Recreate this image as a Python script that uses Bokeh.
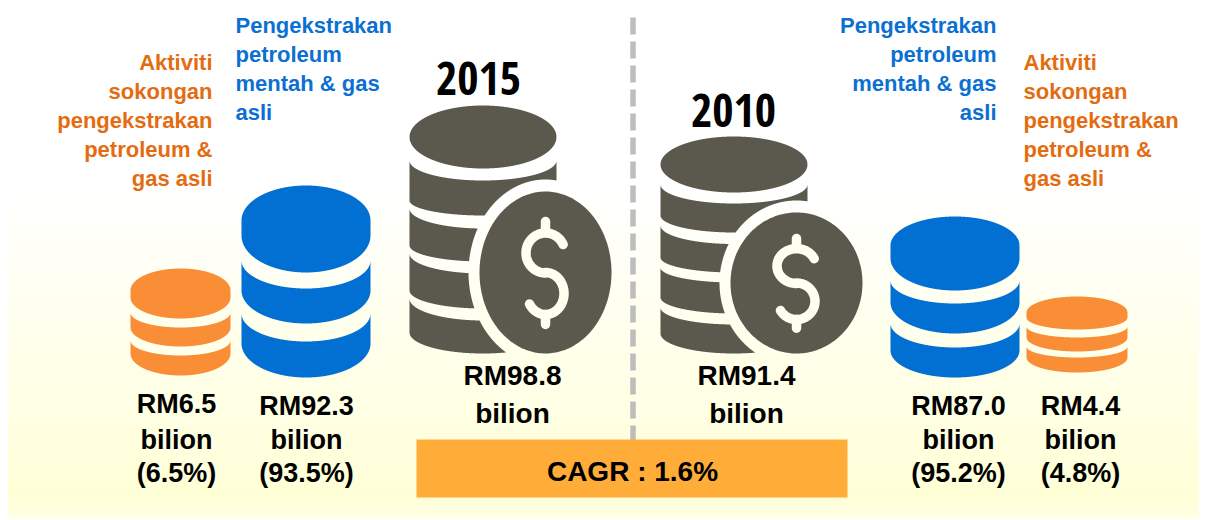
import numpy as np
from bokeh.plotting import figure
from bokeh.embed import file_html
from bokeh.resources import INLINE
from bokeh.core.properties import value

# ---- chart content ----
years = ["2015", "2010"]
totals = ["RM98.8", "RM91.4"]
segment_values = ["RM6.5", "RM92.3", "RM87.0", "RM4.4"]
segment_shares = ["(6.5%)", "(93.5%)", "(95.2%)", "(4.8%)"]
unit = "bilion"
cagr_label = "CAGR : 1.6%"
blue_lines = ["Pengekstrakan", "petroleum", "mentah & gas", "asli"]
orange_lines = ["Aktiviti", "sokongan", "pengekstrakan", "petroleum &", "gas asli"]

# ---- styles ----
BLUE, ORANGE, GREY = "#0270D3", "#F98E36", "#5B584E"
BLUE_T, ORANGE_T = "#0B70D2", "#E46C10"
FONT = value("Liberation Sans")

p = figure(width=1207, height=520, x_range=(0, 1207), y_range=(520, 0),
           output_backend="svg", toolbar_location=None, min_border=0,
           background_fill_color="white", border_fill_color="white", outline_line_color=None)
p.axis.visible = False
p.grid.visible = False

# background gradient
stops_y = [190, 260, 330, 400, 470, 494, 518]
stops_b = [255, 246, 236, 228, 218, 212, 228]
edges = np.arange(190, 519, 2)
mid = edges[:-1] + 1
cols = ["#ffff%02x" % int(round(b)) for b in np.interp(mid, stops_y, stops_b)]
p.quad(left=8, right=1198, top=edges[:-1], bottom=edges[1:], fill_color=cols, line_color=cols, line_width=0.5)


def band(cx, rx, spec, hole=None, n=1200):
    st, ct, sb, cb = spec
    xs = np.linspace(cx - rx, cx + rx, n)
    s = np.sqrt(np.clip(1 - ((xs - cx) / rx) ** 2, 0, 1))
    up = st + (ct - st) * s
    lo = sb + (cb - sb) * s
    keep_x, keep_u, keep_l = [], [], []
    for x, u, l in zip(xs, up, lo):
        if hole is not None:
            hx, hy, hrx, hry = hole
            d = 1 - ((x - hx) / hrx) ** 2
            if d > 0:
                e1 = hy - hry * np.sqrt(d)
                e2 = hy + hry * np.sqrt(d)
                if e1 <= u and e2 >= l:
                    if keep_x:
                        break
                    continue
                if e1 > u and e2 >= l:
                    l = min(l, e1)
                elif e2 < l:
                    u = max(u, e2)
        if l > u:
            keep_x.append(x); keep_u.append(u); keep_l.append(l)
    return keep_x + keep_x[::-1], keep_u + keep_l[::-1]


def stack(cx, rx, specs, color, hole=None):
    xs, ys = [], []
    for sp in specs:
        x, y = band(cx, rx, sp, hole)
        xs.append(x); ys.append(y)
    p.patches(xs, ys, fill_color=color, line_color=None)


stack(180, 50, [(290, 268, 297, 318), (312, 327, 327, 346), (340, 355, 353, 375)], ORANGE)
stack(305.5, 64.5, [(220, 185, 235, 272), (260, 288, 290, 323), (313, 341, 343, 377)], BLUE)
stack(954.5, 64.5, [(245, 216, 258, 290), (280, 303, 302, 333), (323, 347, 350, 377)], BLUE)
stack(1076.5, 50.5, [(312, 296, 317, 329), (326, 337, 337, 351), (346, 357, 357, 372)], ORANGE)


def money(cx, rx, top_spec, specs, coin):
    hx, hy, hrx, hry = coin
    stack(cx, rx, [top_spec], GREY)
    stack(cx, rx, specs, GREY, hole=(hx, hy, hrx + 11, hry + 12))
    t = np.linspace(0, 2 * np.pi, 240)
    p.patch(hx + hrx * np.cos(t), hy + hry * np.sin(t), fill_color=GREY, line_color=None)
    k = hry / 81
    a1 = np.radians(np.linspace(-25, -270, 70))
    ux = hx + 19.5 * np.cos(a1); uy = hy + k * (-19.5 + 20 * np.sin(a1))
    a2 = np.radians(np.linspace(-90, 150, 70))
    lx = hx + 18.5 * np.cos(a2); ly = hy + k * (21 + 21 * np.sin(a2))
    sx = list(ux) + list(lx); sy = list(uy) + list(ly)
    p.multi_line([sx, [hx, hx], [hx, hx]],
                 [sy, [hy - k * 51, hy - k * 40], [hy + k * 42, hy + k * 52]],
                 line_color="#FFFFF0", line_width=9.5, line_cap="round", line_join="round")


money(482.5, 73.5, (136.5, 105, 136.5, 168),
      [(160, 180, 200, 215), (208, 228, 245, 261), (253, 273, 290, 308), (298, 320, 332, 353)],
      (545, 272, 66, 81))
money(733.5, 73.5, (164, 136, 164, 192),
      [(184, 203, 215, 232), (225, 243.5, 257, 272), (267, 282, 297, 313), (307, 324, 333, 353)],
      (796, 282.5, 66, 70.5))

# divider and CAGR bar
p.line([632.5, 632.5], [17, 440], line_color="#BDBDBD", line_width=5.5, line_dash="17 7")
p.quad(left=416, right=847, top=439, bottom=497, fill_color="#FFAD38", line_color=None)


def txt(x, y, s, size, color="#000000", align="center", font=FONT, style="bold"):
    # y is the baseline seen in the reference; the SVG text settles lower than its anchor
    px = float(size[:-2])
    p.text(x=[x], y=[y - 0.36 * px], text=[s], text_font=font, text_font_size=size, text_font_style=style,
           text_color=color, text_align=align, text_baseline="alphabetic")


txt(632, 481, cagr_label, "28px")

narrow = value("'Open Sans Condensed', 'Liberation Sans'")
txt(478, 95, years[0], "46px", font=narrow)
txt(733, 127, years[1], "46px", font=narrow)

txt(512, 385, totals[0], "28px"); txt(512, 423, unit, "28px")
txt(746, 385, totals[1], "28px"); txt(746, 423, unit, "28px")

for cx, v, sh, base in zip([176, 306, 958, 1080], segment_values, segment_shares, [413, 415, 415, 415]):
    txt(cx, base, v, "27px")
    txt(cx, 449.5, unit, "27px")
    txt(cx, 482.5, sh, "27px")

for s, by in zip(blue_lines, [33, 62, 91, 120]):
    txt(235, by, s, "22px", BLUE_T, "left")
    txt(996, by, s, "22px", BLUE_T, "right")
for s, by in zip(orange_lines, [70, 99, 128, 157, 186]):
    txt(212, by, s, "22px", ORANGE_T, "right")
    txt(1023, by, s, "22px", ORANGE_T, "left")

open("out.html", "w").write(file_html(p, INLINE))
